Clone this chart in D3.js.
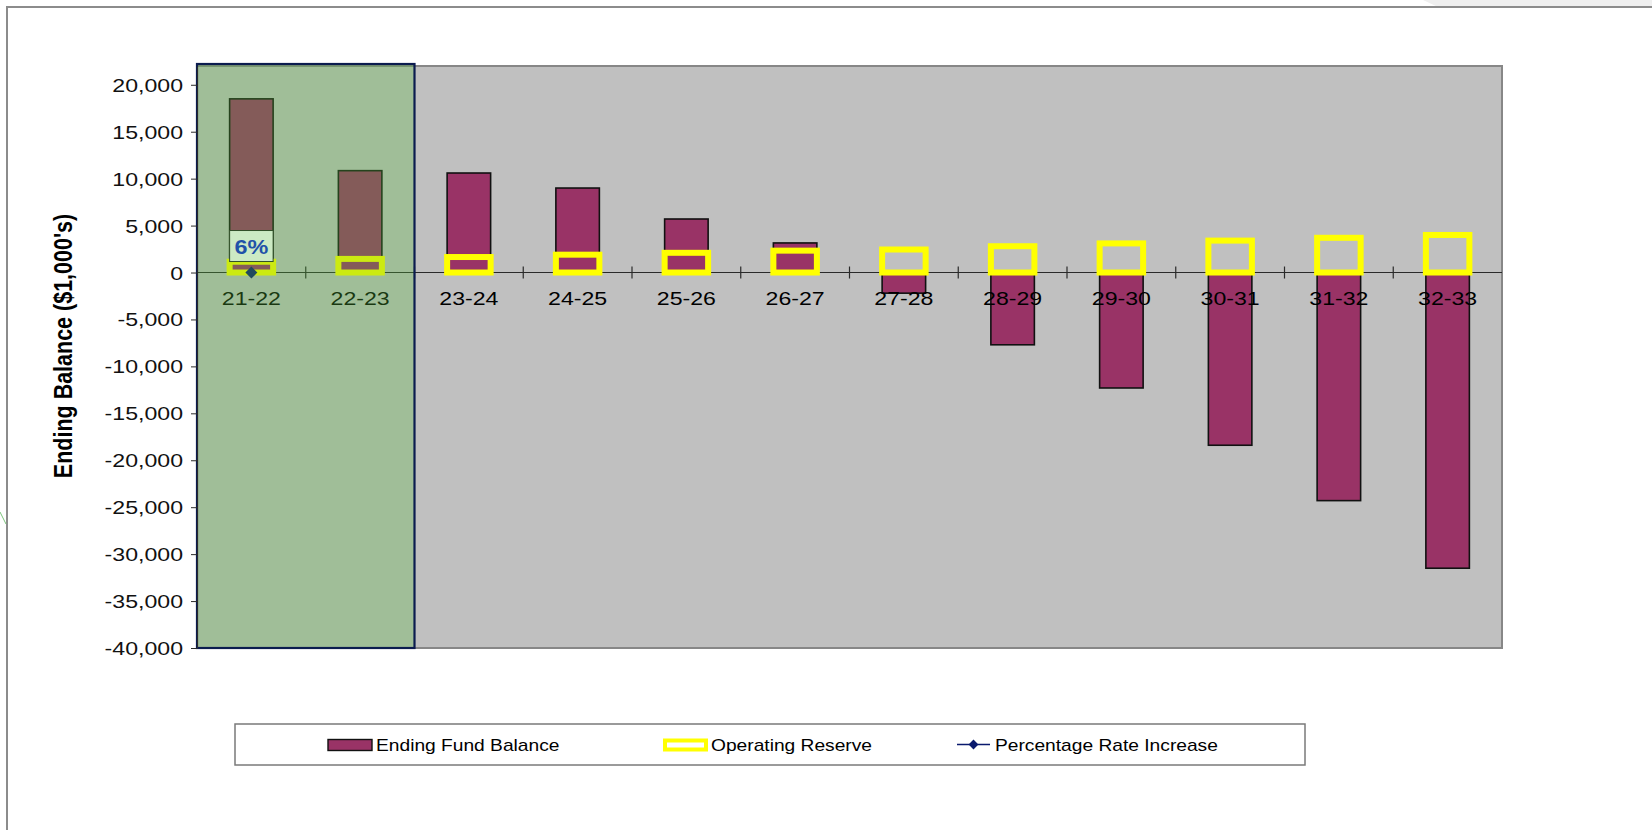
<!DOCTYPE html>
<html>
<head>
<meta charset="utf-8">
<script src="https://cdn.jsdelivr.net/npm/d3@7"></script>
<style>
  body { margin: 0; background: #fff; }
  text { font-family: "Liberation Sans", Arial, sans-serif; }
</style>
</head>
<body>
<div id="chart"></div>
<script>
// data
const categories = ["21-22", "22-23", "23-24", "24-25", "25-26", "26-27", "27-28", "28-29", "29-30", "30-31", "31-32", "32-33"];
const endingBalance = [18500, 10850, 10600, 9000, 5700, 3150, -2200, -7700, -12300, -18400, -24300, -31500];
const operatingReserve = [1150, 1450, 1650, 1900, 2100, 2330, 2450, 2800, 3100, 3400, 3700, 4000];
const rateIncrease = [0, null, null, null, null, null, null, null, null, null, null, null];
const rateLabels = ["6%", null, null, null, null, null, null, null, null, null, null, null];
const yTickValues = [20000, 15000, 10000, 5000, 0, -5000, -10000, -15000, -20000, -25000, -30000, -35000, -40000];
const highlighted = ["21-22", "22-23"];
const legendNames = ["Ending Fund Balance", "Operating Reserve", "Percentage Rate Increase"];

const W = 1652, H = 830;
const plot = { left: 197, right: 1502, top: 66, bottom: 648 };
const SX = 1.2;   // text in the picture is a bit wide
const SXA = 1.25; // axis labels

const svg = d3.select("#chart").append("svg")
    .attr("width", W)
    .attr("height", H);

svg.append("rect").attr("width", W).attr("height", H).attr("fill", "#fff");

// slide frame bits
svg.append("path")
    .attr("d", "M1423,0 L1652,0 L1652,7 L1438,7 Z")
    .attr("fill", "#efefef");
svg.append("path")
    .attr("d", "M7,830 L7,7 L1652,7")
    .attr("fill", "none")
    .attr("stroke", "#8c8c8c")
    .attr("stroke-width", 2);
svg.append("path")
    .attr("d", "M0,512 L6,524")
    .attr("stroke", "#7cc47c")
    .attr("stroke-width", 1);

const x = d3.scaleBand()
    .domain(categories)
    .range([plot.left, plot.right])
    .paddingInner(0.6)
    .paddingOuter(0.3);

const y = d3.scaleLinear()
    .domain([-40000, 22000])
    .range([plot.bottom, plot.top]);

const step = x.step();

// plot area
svg.append("rect")
    .attr("x", plot.left)
    .attr("y", plot.top)
    .attr("width", plot.right - plot.left)
    .attr("height", plot.bottom - plot.top)
    .attr("fill", "#c0c0c0")
    .attr("stroke", "#878787")
    .attr("stroke-width", 2);

// category axis at zero
svg.append("line")
    .attr("x1", plot.left).attr("x2", plot.right)
    .attr("y1", y(0)).attr("y2", y(0))
    .attr("stroke", "#2a2a2a")
    .attr("stroke-width", 1.2);

svg.selectAll(".xtick")
    .data(categories.slice(1))
    .join("line")
    .attr("class", "xtick")
    .attr("x1", d => x(d) - step * 0.3)
    .attr("x2", d => x(d) - step * 0.3)
    .attr("y1", y(0) - 6)
    .attr("y2", y(0) + 6)
    .attr("stroke", "#2a2a2a")
    .attr("stroke-width", 1.2);

// ending fund balance bars
svg.selectAll(".bal")
    .data(categories)
    .join("rect")
    .attr("class", "bal")
    .attr("x", d => x(d))
    .attr("width", x.bandwidth())
    .attr("y", (d, i) => y(Math.max(0, endingBalance[i])))
    .attr("height", (d, i) => Math.abs(y(endingBalance[i]) - y(0)))
    .attr("fill", "#993366")
    .attr("stroke", "#111")
    .attr("stroke-width", 1.6);

// operating reserve outlines
svg.selectAll(".res")
    .data(categories)
    .join("rect")
    .attr("class", "res")
    .attr("x", d => x(d))
    .attr("width", x.bandwidth())
    .attr("y", (d, i) => y(operatingReserve[i]))
    .attr("height", (d, i) => y(0) - y(operatingReserve[i]))
    .attr("fill", "none")
    .attr("stroke", "#ffff00")
    .attr("stroke-width", 6);

// percentage rate increase point + label
const ratePts = categories.map((c, i) => ({ c, v: rateIncrease[i], label: rateLabels[i] }))
    .filter(d => d.v !== null);

const lab = svg.selectAll(".ratelab")
    .data(ratePts)
    .join("g")
    .attr("class", "ratelab")
    .attr("transform", d => `translate(${x(d.c) + x.bandwidth() / 2},${y(d.v) - 11})`);

lab.append("rect")
    .attr("x", -x.bandwidth() / 2)
    .attr("y", -31)
    .attr("width", x.bandwidth())
    .attr("height", 31)
    .attr("fill", "#fff")
    .attr("stroke", "#222")
    .attr("stroke-width", 1);

lab.append("text")
    .attr("transform", `translate(0,-8) scale(${SX},1)`)
    .attr("text-anchor", "middle")
    .attr("font-size", 19.5)
    .attr("font-weight", "bold")
    .attr("fill", "#0a26d8")
    .text(d => d.label);

svg.selectAll(".ratept")
    .data(ratePts)
    .join("path")
    .attr("class", "ratept")
    .attr("d", d3.symbol(d3.symbolSquare, 72))
    .attr("transform", d => `translate(${x(d.c) + x.bandwidth() / 2},${y(d.v)}) rotate(45)`)
    .attr("fill", "#0a1a6e");

// x labels
const xAxis = svg.append("g")
    .attr("transform", `translate(0,${y(0)})`)
    .call(d3.axisBottom(x).tickSize(0));
xAxis.select(".domain").remove();
xAxis.selectAll("text")
    .attr("y", null)
    .attr("dy", null)
    .attr("transform", `translate(0,32) scale(${SXA},1)`)
    .attr("font-size", 18.5)
    .attr("font-family", "Liberation Sans, Arial, sans-serif")
    .attr("fill", "#000");

// green highlight over the actual years
const hx0 = x(highlighted[0]) - step * 0.3;
const hx1 = x(highlighted[highlighted.length - 1]) + x.bandwidth() + step * 0.3;
svg.append("rect")
    .attr("x", hx0)
    .attr("y", plot.top - 2)
    .attr("width", hx1 - hx0)
    .attr("height", plot.bottom - plot.top + 2)
    .attr("fill", "rgb(85,185,59)")
    .attr("fill-opacity", 0.3)
    .attr("stroke", "#0b1c4f")
    .attr("stroke-width", 2.2);

// value axis
const locale = d3.formatLocale({ decimal: ".", thousands: ",", grouping: [3], currency: ["$", ""], minus: "-" });
const yAxis = svg.append("g")
    .attr("transform", `translate(${plot.left},0)`)
    .call(d3.axisLeft(y).tickValues(yTickValues).tickSize(6).tickSizeOuter(0).tickFormat(locale.format(",")));
yAxis.select(".domain").attr("stroke", "#2a2a2a");
yAxis.selectAll(".tick line").attr("stroke", "#2a2a2a");
yAxis.selectAll("text")
    .attr("x", null)
    .attr("dy", "0.35em")
    .attr("transform", `translate(-14,0) scale(${SXA},1)`)
    .attr("font-size", 18.5)
    .attr("font-family", "Liberation Sans, Arial, sans-serif")
    .attr("fill", "#111");

svg.append("text")
    .attr("transform", `translate(72,346) scale(${SX},1) rotate(-90)`)
    .attr("text-anchor", "middle")
    .attr("font-size", 21.5)
    .attr("font-weight", "bold")
    .attr("fill", "#000")
    .text("Ending Balance ($1,000's)");

// legend
const leg = { x: 235, y: 724, w: 1070, h: 41 };
svg.append("rect")
    .attr("x", leg.x).attr("y", leg.y)
    .attr("width", leg.w).attr("height", leg.h)
    .attr("fill", "#fff")
    .attr("stroke", "#7a7a7a")
    .attr("stroke-width", 1.5);

const ly = leg.y + leg.h / 2;
const legendX = [328, 663, 957];

svg.append("rect")
    .attr("x", legendX[0]).attr("y", ly - 5)
    .attr("width", 44).attr("height", 11)
    .attr("fill", "#993366")
    .attr("stroke", "#111")
    .attr("stroke-width", 1.4);

svg.append("rect")
    .attr("x", legendX[1] + 2).attr("y", ly - 4)
    .attr("width", 41).attr("height", 9)
    .attr("fill", "#fff")
    .attr("stroke", "#ffff00")
    .attr("stroke-width", 4);

svg.append("line")
    .attr("x1", legendX[2]).attr("x2", legendX[2] + 33)
    .attr("y1", ly).attr("y2", ly)
    .attr("stroke", "#0a1a6e")
    .attr("stroke-width", 1.5);
svg.append("path")
    .attr("d", d3.symbol(d3.symbolSquare, 48))
    .attr("transform", `translate(${legendX[2] + 16.5},${ly}) rotate(45)`)
    .attr("fill", "#0a1a6e");

const legendTextX = [376, 711, 995];
svg.selectAll(".legtext")
    .data(legendNames)
    .join("text")
    .attr("class", "legtext")
    .attr("transform", (d, i) => `translate(${legendTextX[i]},${ly + 6}) scale(${SX},1)`)
    .attr("font-size", 16)
    .attr("font-weight", 500)
    .attr("fill", "#000")
    .text(d => d);
</script>
</body>
</html>
